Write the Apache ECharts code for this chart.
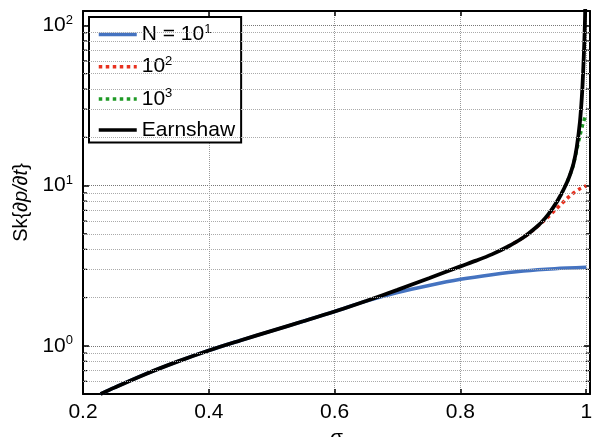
<!DOCTYPE html>
<html>
<head>
<meta charset="utf-8">
<script src="https://cdn.jsdelivr.net/npm/echarts@6/dist/echarts.min.js"></script>
<style>
html,body{margin:0;padding:0;background:#fff;}
#chart{width:598px;height:437px;}
</style>
</head>
<body>
<div id="chart"></div>
<script>
// ---- data ----
const seriesNames = ['N = 10^1', '10^2', '10^3', 'Earnshaw'];

const sigmaEarnshaw = [0.228, 0.25, 0.3, 0.35, 0.4, 0.45, 0.5, 0.55, 0.6, 0.65, 0.7, 0.75, 0.8, 0.825, 0.85, 0.875, 0.9, 0.92, 0.93, 0.94, 0.95, 0.96, 0.97, 0.975, 0.98, 0.985, 0.99, 0.993, 0.995, 0.997, 0.998, 0.9985];
const skEarnshaw    = [0.50, 0.548, 0.667, 0.796, 0.935, 1.079, 1.239, 1.422, 1.637, 1.905, 2.234, 2.642, 3.13, 3.40, 3.72, 4.15, 4.74, 5.47, 5.97, 6.64, 7.55, 8.8, 10.6, 11.9, 13.8, 17.4, 25, 35.5, 50, 79, 107, 135];

const sigmaN1 = [0.228, 0.25, 0.3, 0.35, 0.4, 0.45, 0.5, 0.55, 0.6, 0.65, 0.7, 0.75, 0.8, 0.85, 0.9, 0.95, 1.0];
const skN1    = [0.50, 0.548, 0.667, 0.796, 0.935, 1.079, 1.239, 1.422, 1.637, 1.90, 2.15, 2.38, 2.60, 2.78, 2.93, 3.03, 3.09];

const sigmaN2 = [0.875, 0.9, 0.92, 0.93, 0.94, 0.95, 0.96, 0.97, 0.98, 0.99, 1.0];
const skN2    = [4.15, 4.74, 5.45, 5.9, 6.4, 7.0, 7.65, 8.35, 9.0, 9.55, 9.95];

const sigmaN3 = [0.97, 0.975, 0.98, 0.985, 0.99, 0.995, 1.0];
const skN3    = [10.6, 11.9, 13.7, 16.8, 20.5, 24.5, 28.0];

const yMinorGrid = [0.6, 0.7, 0.8, 0.9, 2, 3, 4, 5, 6, 7, 8, 9, 20, 30, 40, 50, 60, 70, 80, 90];

// ---- chart ----
const FONT = 'Liberation Sans, Arial, Helvetica, sans-serif';
const X_MIN = 0.2, X_MAX = 1.006, Y_MIN = 0.5, Y_MAX = 123;

function zip(a, b) { return a.map((v, i) => [v, b[i]]); }

const legendRich = {
  t: { fontSize: 21, fontFamily: FONT, color: '#000', lineHeight: 24 },
  s: { fontSize: 13, fontFamily: FONT, color: '#000', padding: [0, 0, 10, 0] }
};
function supText(name) {
  const m = name.match(/^(.*)10\^(\d)$/);
  if (m) return '{t|' + m[1] + '10}{s|' + m[2] + '}';
  return '{t|' + name + '}';
}

const chart = echarts.init(document.getElementById('chart'), null, { renderer: 'canvas' });

const lineCommon = { showSymbol: false, symbol: 'none', smooth: 0.3 };

const option = {
  animation: false,
  backgroundColor: '#fff',
  grid: { left: 83, right: 8, top: 11, bottom: 43, containLabel: false, outerBoundsMode: 'none' },
  legend: {
    data: seriesNames,
    orient: 'vertical',
    left: 89, top: 17,
    backgroundColor: '#fff',
    borderColor: '#000', borderWidth: 2,
    padding: [6, 6, 2, 8],
    itemWidth: 38, itemHeight: 14, itemGap: 10.2,
    itemStyle: { opacity: 0, color: 'transparent', borderWidth: 0 },
    lineStyle: { width: 3.5 },
    formatter: supText,
    textStyle: { fontSize: 21, fontFamily: FONT, color: '#000', rich: legendRich },
    selectedMode: false
  },
  xAxis: [{
    type: 'value', min: X_MIN, max: X_MAX, interval: 0.2,
    name: 'σ', nameLocation: 'middle', nameGap: 33,
    nameTextStyle: { fontSize: 21, fontFamily: FONT, color: '#000' },
    axisLine: { show: true, onZero: false, lineStyle: { color: '#000', width: 2 } },
    axisTick: { show: true, inside: true, length: 5, lineStyle: { color: '#000', width: 1.5 } },
    axisLabel: {
      margin: 8, fontSize: 21, fontFamily: FONT, color: '#000',
      formatter: v => {
        if (Math.abs(v - 1) < 1e-9) return '1';
        if (v > 1) return '';
        return v.toFixed(1);
      }
    },
    splitLine: { show: true, lineStyle: { color: '#999', type: 'dotted', width: 1 } }
  }, {
    type: 'value', position: 'top', min: X_MIN, max: X_MAX, interval: 0.2,
    axisLine: { show: true, onZero: false, lineStyle: { color: '#000', width: 2 } },
    axisTick: { show: true, inside: true, length: 5, lineStyle: { color: '#000', width: 1.5 } },
    axisLabel: { show: false },
    splitLine: { show: false }
  }],
  yAxis: [{
    type: 'log', logBase: 10, min: Y_MIN, max: Y_MAX,
    name: '{a|Sk{}{i|∂p/∂t}}', nameLocation: 'middle', nameGap: 50,
    nameTextStyle: {
      fontSize: 20, fontFamily: FONT, color: '#000',
      rich: {
        a: { fontSize: 20, fontFamily: FONT, color: '#000' },
        i: { fontSize: 20, fontFamily: FONT, color: '#000', fontStyle: 'italic' }
      }
    },
    axisLine: { show: true, onZero: false, lineStyle: { color: '#000', width: 2 } },
    axisTick: { show: true, inside: true, length: 6, lineStyle: { color: '#000', width: 1.5 } },
    axisLabel: {
      margin: 10, fontFamily: FONT, color: '#000',
      formatter: v => {
        const e = Math.round(Math.log10(v));
        if (Math.abs(v - Math.pow(10, e)) > 1e-6 * v) return '';
        return '{t|10}{s|' + e + '}';
      },
      rich: legendRich
    },
    splitLine: { show: true, lineStyle: { color: '#777', type: 'dotted', width: 1 } }
  }, {
    type: 'log', logBase: 10, min: Y_MIN, max: Y_MAX, position: 'right',
    axisLine: { show: true, onZero: false, lineStyle: { color: '#000', width: 2 } },
    axisTick: { show: true, inside: true, length: 6, lineStyle: { color: '#000', width: 1.5 } },
    axisLabel: { show: false },
    splitLine: { show: false }
  }],
  series: [
    Object.assign({
      name: seriesNames[0], type: 'line', data: zip(sigmaN1, skN1),
      lineStyle: { color: '#4573c0', width: 3.5 }, itemStyle: { color: '#4573c0' }, z: 3
    }, lineCommon),
    Object.assign({
      name: seriesNames[1], type: 'line', data: zip(sigmaN2, skN2),
      lineStyle: { color: '#e8311f', width: 3.5, type: 'dotted' }, itemStyle: { color: '#e8311f' }, z: 3
    }, lineCommon),
    Object.assign({
      name: seriesNames[2], type: 'line', data: zip(sigmaN3, skN3),
      lineStyle: { color: '#1f9a26', width: 3.5, type: 'dotted' }, itemStyle: { color: '#1f9a26' }, z: 3
    }, lineCommon),
    Object.assign({
      name: seriesNames[3], type: 'line', data: zip(sigmaEarnshaw, skEarnshaw),
      lineStyle: { color: '#000', width: 3.8 }, itemStyle: { color: '#000' }, z: 4
    }, lineCommon),
    {
      name: 'minor', type: 'custom', silent: true, z: 1,
      data: yMinorGrid.map(v => [X_MIN, v]),
      renderItem: (params, api) => {
        const pt = api.coord([api.value(0), api.value(1)]);
        const cs = params.coordSys;
        return {
          type: 'group',
          children: [
            { type: 'line', shape: { x1: cs.x, y1: pt[1], x2: cs.x + 4, y2: pt[1] }, style: { stroke: '#000', lineWidth: 1.2 } },
            { type: 'line', shape: { x1: cs.x + cs.width, y1: pt[1], x2: cs.x + cs.width - 4, y2: pt[1] }, style: { stroke: '#000', lineWidth: 1.2 } }
          ]
        };
      },
      markLine: {
        silent: true, symbol: ['none', 'none'], animation: false,
        label: { show: false },
        lineStyle: { color: '#aaa', type: 'dotted', width: 1 },
        data: yMinorGrid.map(v => ({ yAxis: v }))
      }
    }
  ]
};
chart.setOption(option);
</script>
</body>
</html>
